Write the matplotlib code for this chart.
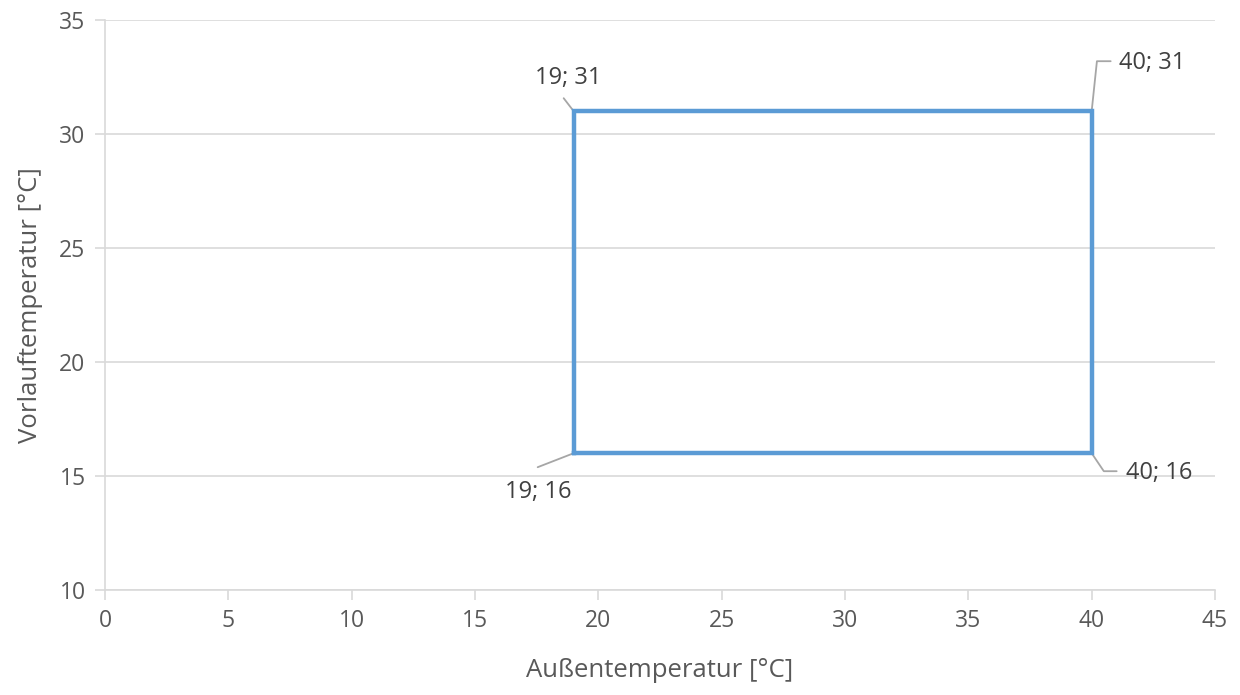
import matplotlib; matplotlib.use("Agg")
import matplotlib.pyplot as plt

# rectangle of the operating range (Außentemperatur, Vorlauftemperatur)
x_pts = [19, 40, 40, 19, 19]
y_pts = [16, 16, 31, 31, 16]
corner_labels = [(19, 31), (40, 31), (19, 16), (40, 16)]
xticks = [0, 5, 10, 15, 20, 25, 30, 35, 40, 45]
yticks = [10, 15, 20, 25, 30, 35]

GRAY = "#595959"; BLUE = "#5B9BD5"; GRID = "#D9D9D9"; LEAD = "#A6A6A6"
plt.rcParams["font.family"] = ["Open Sans", "DejaVu Sans"]

fig = plt.figure(figsize=(12.4, 6.95), dpi=100)
ax = fig.add_axes([105/1240, 1-590/695, 1110/1240, 570/695])
ax.plot(x_pts, y_pts, color=BLUE, lw=3.2, solid_joinstyle="miter", zorder=3)
ax.set_xlim(0, 45); ax.set_ylim(10, 35)
ax.set_xticks(xticks); ax.set_yticks(yticks)
ax.grid(axis="y", color=GRID, lw=1.2, zorder=0)
for s in ("top", "right"): ax.spines[s].set_visible(False)
for s in ("left", "bottom"):
    ax.spines[s].set_color(GRID); ax.spines[s].set_linewidth(1.2)
ax.tick_params(colors=GRID, length=7, width=1.2, labelcolor=GRAY, labelsize=16.5, pad=7)
ax.set_xlabel("Außentemperatur [°C]", color=GRAY, fontsize=18.5, labelpad=18)
ax.set_ylabel("Vorlauftemperatur [°C]", color=GRAY, fontsize=18.5, labelpad=12)

# data labels: (leader end offset, connection style, text offset, alignment)
specs = {
    (19, 31): ((-10, 13), "arc3", (-5, 33), "center"),
    (40, 31): ((19, 50), "angle,angleA=0,angleB=84,rad=0", (27, 48), "left"),
    (19, 16): ((-36, -14), "arc3", (-35, -39), "center"),
    (40, 16): ((25, -18), "angle,angleA=0,angleB=-56,rad=0", (34, -20), "left"),
}
for (cx, cy) in corner_labels:
    lead, cs, toff, ha = specs[(cx, cy)]
    ax.annotate("", xy=(cx, cy), xytext=lead, textcoords="offset pixels",
                arrowprops=dict(arrowstyle="-", color=LEAD, lw=1.3, shrinkA=0, shrinkB=0,
                                connectionstyle=cs), zorder=2)
    ax.annotate(f"{cx}; {cy}", xy=(cx, cy), xytext=toff, textcoords="offset pixels",
                ha=ha, va="center", color="#404040", fontsize=17)

fig.savefig("out.png", dpi=100)
